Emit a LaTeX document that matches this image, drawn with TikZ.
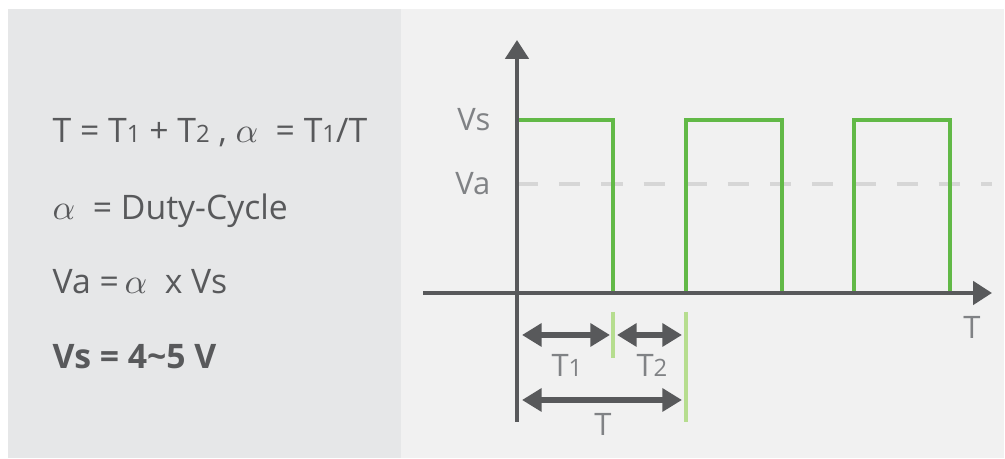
\documentclass[tikz,border=0pt]{standalone}
\usepackage{fontspec}
\setmainfont{Open Sans}
\usetikzlibrary{arrows.meta,positioning}
\definecolor{panelL}{HTML}{E6E7E8}
\definecolor{panelR}{HTML}{F1F1F1}
\definecolor{ink}{HTML}{58595B}
\definecolor{lblgray}{HTML}{808285}
\definecolor{pulsegreen}{HTML}{62B947}
\definecolor{markgreen}{HTML}{B6DD8F}
\definecolor{vagray}{HTML}{D6D6D6}
\newcommand{\lo}[1]{{\fontsize{6.8}{7}\selectfont #1}}

\begin{document}
\begin{tikzpicture}[x=0.01cm,y=-0.01cm,
    axis/.style={draw=ink,line width=1.2pt,-{Triangle[length=5.4pt,width=6.6pt]}},
    span/.style={draw=ink,line width=1.6pt,{Triangle[length=5.6pt,width=6.4pt]}-{Triangle[length=5.6pt,width=6.4pt]}},
    marker/.style={draw=markgreen,line width=1.3pt},
    wave/.style={draw=pulsegreen,line width=1.3pt},
    lab/.style={text=lblgray,font=\fontsize{8.8}{10}\selectfont,inner sep=0pt},
    eq/.style={text=ink,font=\fontsize{9.6}{11}\selectfont,inner sep=0pt,anchor=base west}]
    \useasboundingbox (0,0) rectangle (1005,459);
    \fill[panelL] (8,9) rectangle (401,458);
    \fill[panelR] (401,9) rectangle (1004,458);

    % formulas
    \node[eq] (eq1) at (52,143) {T = T\lo{1} + T\lo{2} , $\alpha$\ \ = T\lo{1}/T};
    \node[eq] (eq2) at (52,220) {$\alpha$\ \ = Duty-Cycle};
    \node[eq] (eq3) at (52,294) {Va =\,$\alpha$\ \ x Vs};
    \node[eq] (eq4) at (52,369) {\bfseries Vs = 4\textasciitilde 5 V};

    % axes
    \coordinate (O) at (517,293);
    \coordinate (ytop) at (517,40);
    \coordinate (ybot) at (517,422);
    \coordinate (xl) at (423,293);
    \coordinate (xr) at (992,293);
    \coordinate (vs) at (517,120);
    \coordinate (va) at (517,184);
    \coordinate (vaend) at (992,184);

    \draw[vagray,line width=1.3pt,dash pattern=on 6pt off 6pt] (va) -- (vaend);
    \foreach \x in {517,686,854}{
      \draw[wave,line join=miter] (\x,293) |- (\x+96,120) -- (\x+96,293);
    }
    \draw[axis] (ybot) -- (ytop);
    \draw[axis] (xl) -- (xr);

    \node[lab,anchor=east,left=0.26cm of vs] (vslbl) {Vs};
    \node[lab,anchor=east,left=0.26cm of va] (valbl) {Va};
    \node[lab,below=0.23cm of xr,xshift=-0.2cm] (tlbl) {T};

    % periods
    \coordinate (m1t) at (613,312);
    \coordinate (m1b) at (613,358);
    \coordinate (m2t) at (686,312);
    \coordinate (m2b) at (686,422);
    \draw[marker] (m1t) -- (m1b);
    \draw[marker] (m2t) -- (m2b);
    \coordinate (a1l) at (522,335);
    \coordinate (a1r) at (610,335);
    \coordinate (a2l) at (617,335);
    \coordinate (a2r) at (682,335);
    \coordinate (a3l) at (522,400);
    \coordinate (a3r) at (682,400);
    \draw[span] (a1l) -- (a1r);
    \draw[span] (a2l) -- (a2r);
    \draw[span] (a3l) -- (a3r);
    \node[lab] (t1lbl) at (567,365) {T\lo{1}};
    \node[lab] (t2lbl) at (652,365) {T\lo{2}};
    \node[lab] (ttlbl) at (603,424) {T};
\end{tikzpicture}
\end{document}
